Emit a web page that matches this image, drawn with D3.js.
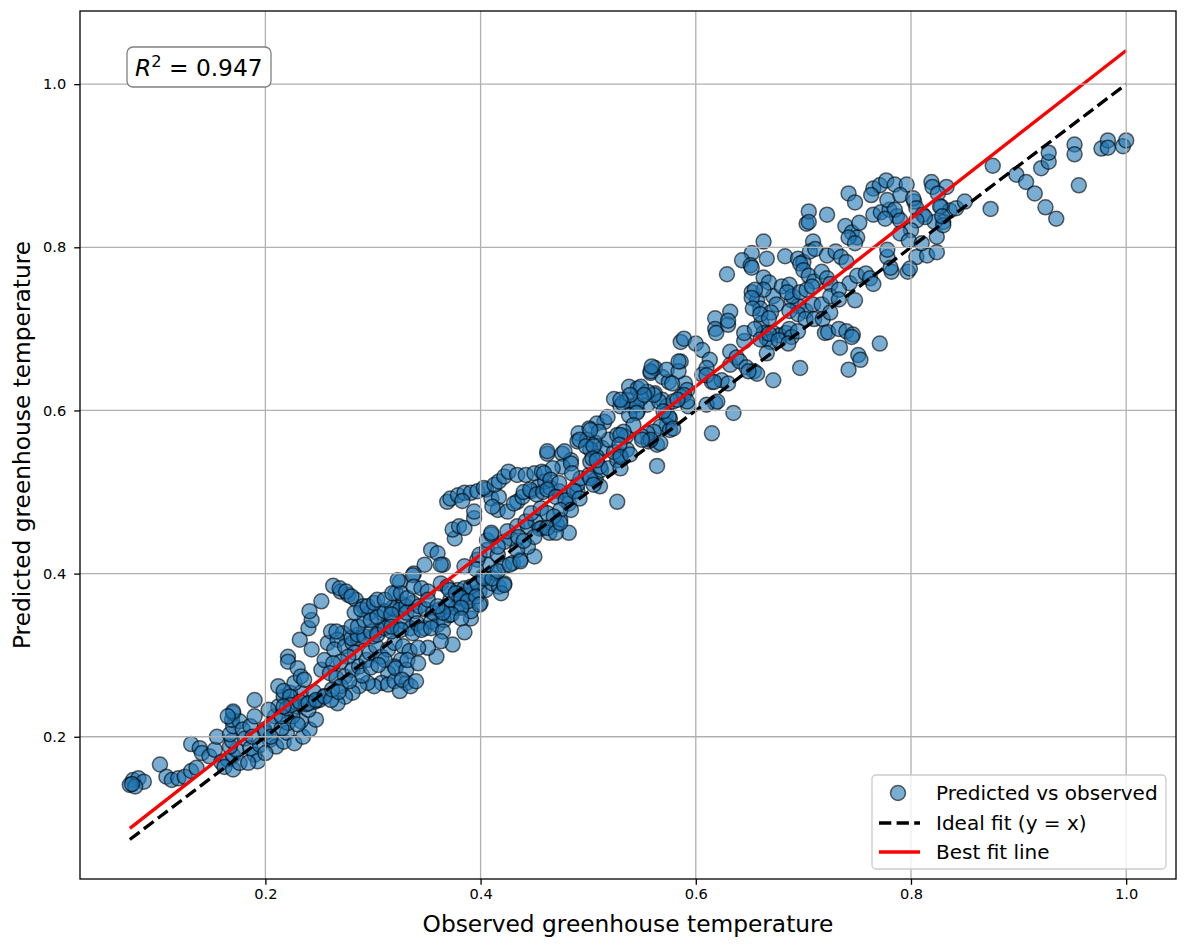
<!DOCTYPE html>
<html><head><meta charset="utf-8">
<script src="https://cdn.jsdelivr.net/npm/d3@7"></script>
<style>body{margin:0;background:#fff} svg{display:block} text{font-family:"DejaVu Sans",sans-serif;fill:#000}</style>
</head><body>
<svg id="chart" width="1187" height="947"></svg>
<script>
// ---- data (observed, predicted) ----
const segA = [[0.077,0.147],[0.082,0.149],[0.074,0.141],[0.087,0.145],[0.079,0.139],[0.076,0.142],[0.102,0.166],[0.108,0.151],[0.113,0.147],[0.119,0.149],[0.125,0.151],[0.131,0.158],[0.136,0.162],[0.131,0.191],[0.139,0.186],[0.141,0.180],[0.148,0.176],[0.153,0.184],[0.155,0.200],[0.159,0.169],[0.165,0.172],[0.170,0.177],[0.162,0.163],[0.170,0.160],[0.176,0.168],[0.173,0.184],[0.167,0.188],[0.169,0.195],[0.167,0.203],[0.170,0.213],[0.169,0.221],[0.170,0.229],[0.176,0.219],[0.179,0.209],[0.181,0.198],[0.186,0.213],[0.186,0.186],[0.190,0.178],[0.193,0.170],[0.184,0.168],[0.190,0.225],[0.190,0.245],[0.199,0.209],[0.204,0.196],[0.210,0.188],[0.217,0.194],[0.220,0.205],[0.227,0.192],[0.235,0.200],[0.241,0.209],[0.247,0.221],[0.233,0.219],[0.221,0.217],[0.209,0.225],[0.212,0.237],[0.217,0.249],[0.212,0.262],[0.223,0.254],[0.229,0.237],[0.240,0.233],[0.246,0.243],[0.233,0.254],[0.227,0.266],[0.195,0.190],[0.200,0.205],[0.205,0.215],[0.215,0.210],[0.225,0.225],[0.230,0.215],[0.238,0.240],[0.250,0.245],[0.245,0.255],[0.255,0.250],[0.200,0.180],[0.188,0.200],[0.205,0.200],[0.215,0.225],[0.220,0.235],[0.203,0.233],[0.170,0.231],[0.165,0.225],[0.217,0.256],[0.223,0.249],[0.224,0.239],[0.217,0.237],[0.232,0.243],[0.240,0.241],[0.247,0.245],[0.255,0.249],[0.221,0.298],[0.221,0.292],[0.230,0.284],[0.233,0.274],[0.236,0.270],[0.232,0.319],[0.243,0.307],[0.240,0.333],[0.243,0.343],[0.241,0.354],[0.252,0.366],[0.252,0.282],[0.255,0.294],[0.258,0.315]];
const segB = [[0.263,0.385],[0.270,0.378],[0.277,0.374],[0.284,0.368],[0.291,0.360],[0.297,0.352],[0.269,0.382],[0.275,0.378],[0.280,0.372],[0.261,0.329],[0.272,0.327],[0.267,0.319],[0.264,0.307],[0.274,0.311],[0.281,0.315],[0.286,0.321],[0.283,0.303],[0.277,0.298],[0.270,0.292],[0.263,0.290],[0.260,0.278],[0.266,0.272],[0.274,0.274],[0.281,0.282],[0.287,0.286],[0.294,0.294],[0.297,0.303],[0.303,0.311],[0.300,0.323],[0.306,0.331],[0.312,0.335],[0.315,0.343],[0.308,0.352],[0.320,0.356],[0.328,0.362],[0.321,0.376],[0.325,0.390],[0.338,0.400],[0.308,0.298],[0.314,0.307],[0.320,0.315],[0.328,0.311],[0.334,0.305],[0.326,0.294],[0.320,0.286],[0.314,0.278],[0.308,0.266],[0.301,0.262],[0.295,0.266],[0.287,0.262],[0.281,0.254],[0.274,0.249],[0.267,0.241],[0.261,0.245],[0.266,0.329],[0.280,0.321],[0.286,0.325],[0.292,0.323],[0.298,0.329],[0.304,0.325],[0.311,0.333],[0.317,0.329],[0.323,0.333],[0.329,0.341],[0.335,0.333],[0.280,0.335],[0.286,0.335],[0.292,0.343],[0.298,0.343],[0.304,0.347],[0.311,0.354],[0.318,0.358],[0.325,0.356],[0.331,0.360],[0.337,0.364],[0.283,0.352],[0.289,0.356],[0.295,0.360],[0.301,0.364],[0.304,0.368],[0.311,0.368],[0.318,0.376],[0.326,0.376],[0.332,0.370],[0.323,0.392],[0.317,0.350],[0.317,0.335],[0.326,0.331],[0.337,0.327],[0.331,0.352],[0.339,0.354],[0.314,0.264],[0.320,0.268],[0.331,0.266],[0.325,0.256],[0.311,0.294],[0.321,0.284],[0.331,0.282],[0.332,0.294],[0.327,0.270],[0.335,0.262],[0.340,0.268],[0.290,0.275],[0.298,0.285],[0.305,0.288],[0.270,0.262],[0.278,0.268],[0.262,0.258],[0.268,0.255]];
const segC = [[0.341,0.339],[0.348,0.333],[0.354,0.341],[0.360,0.337],[0.366,0.343],[0.371,0.349],[0.377,0.358],[0.383,0.360],[0.391,0.345],[0.391,0.354],[0.400,0.364],[0.343,0.360],[0.349,0.356],[0.356,0.352],[0.362,0.356],[0.368,0.360],[0.372,0.368],[0.380,0.372],[0.386,0.374],[0.393,0.376],[0.399,0.378],[0.405,0.380],[0.411,0.388],[0.417,0.384],[0.422,0.388],[0.419,0.376],[0.363,0.388],[0.369,0.384],[0.379,0.380],[0.385,0.382],[0.391,0.384],[0.397,0.388],[0.402,0.396],[0.413,0.401],[0.406,0.411],[0.397,0.417],[0.399,0.423],[0.406,0.429],[0.416,0.423],[0.422,0.409],[0.430,0.413],[0.437,0.417],[0.450,0.421],[0.444,0.433],[0.434,0.429],[0.428,0.443],[0.422,0.439],[0.416,0.433],[0.406,0.441],[0.410,0.448],[0.376,0.443],[0.374,0.454],[0.380,0.458],[0.385,0.456],[0.394,0.468],[0.394,0.476],[0.369,0.488],[0.372,0.492],[0.379,0.496],[0.385,0.499],[0.391,0.499],[0.397,0.501],[0.405,0.503],[0.383,0.489],[0.410,0.492],[0.417,0.494],[0.416,0.478],[0.425,0.476],[0.434,0.488],[0.354,0.429],[0.360,0.425],[0.365,0.411],[0.348,0.411],[0.337,0.398],[0.338,0.384],[0.345,0.382],[0.351,0.378],[0.351,0.368],[0.363,0.411],[0.385,0.409],[0.396,0.405],[0.403,0.394],[0.411,0.394],[0.416,0.403],[0.422,0.386],[0.427,0.411],[0.437,0.415],[0.371,0.380],[0.377,0.376],[0.382,0.370],[0.388,0.366],[0.396,0.372],[0.399,0.362],[0.382,0.358],[0.373,0.350],[0.365,0.352],[0.360,0.360],[0.345,0.331],[0.354,0.333],[0.365,0.329],[0.382,0.345],[0.385,0.328],[0.374,0.313],[0.363,0.317],[0.359,0.298],[0.351,0.309],[0.342,0.309],[0.342,0.290],[0.410,0.450],[0.425,0.452],[0.434,0.458],[0.444,0.458],[0.451,0.464],[0.457,0.456],[0.442,0.464],[0.447,0.474],[0.456,0.480],[0.411,0.482],[0.431,0.486],[0.439,0.494],[0.447,0.501],[0.454,0.507],[0.403,0.505],[0.413,0.509],[0.417,0.513],[0.422,0.519],[0.426,0.525],[0.434,0.521],[0.442,0.521],[0.450,0.523],[0.457,0.525],[0.440,0.500],[0.446,0.503],[0.452,0.497],[0.458,0.500],[0.455,0.455],[0.450,0.445],[0.435,0.445],[0.440,0.440]];
const segD = [[0.462,0.547],[0.476,0.547],[0.484,0.539],[0.476,0.531],[0.467,0.529],[0.460,0.513],[0.465,0.505],[0.473,0.501],[0.481,0.496],[0.482,0.486],[0.490,0.501],[0.490,0.509],[0.493,0.517],[0.501,0.521],[0.507,0.515],[0.511,0.507],[0.464,0.450],[0.471,0.460],[0.482,0.450],[0.474,0.466],[0.462,0.474],[0.462,0.550],[0.478,0.550],[0.484,0.535],[0.485,0.523],[0.502,0.517],[0.512,0.527],[0.505,0.509],[0.459,0.523],[0.465,0.515],[0.473,0.511],[0.462,0.503],[0.470,0.494],[0.479,0.490],[0.487,0.501],[0.492,0.492],[0.484,0.478],[0.474,0.478],[0.468,0.470],[0.462,0.456],[0.470,0.450],[0.474,0.462],[0.515,0.586],[0.508,0.584],[0.501,0.578],[0.491,0.572],[0.490,0.562],[0.499,0.564],[0.507,0.560],[0.513,0.554],[0.502,0.552],[0.508,0.543],[0.502,0.537],[0.511,0.531],[0.519,0.529],[0.527,0.539],[0.530,0.529],[0.530,0.545],[0.524,0.549],[0.519,0.564],[0.527,0.570],[0.535,0.568],[0.536,0.552],[0.527,0.488],[0.510,0.574],[0.502,0.576],[0.492,0.564],[0.498,0.556],[0.505,0.556],[0.504,0.541],[0.508,0.539],[0.538,0.629],[0.546,0.627],[0.524,0.614],[0.536,0.613],[0.530,0.605],[0.541,0.605],[0.546,0.599],[0.555,0.607],[0.562,0.621],[0.569,0.613],[0.573,0.605],[0.572,0.595],[0.576,0.590],[0.573,0.582],[0.567,0.580],[0.561,0.574],[0.555,0.572],[0.550,0.568],[0.556,0.562],[0.564,0.558],[0.576,0.576],[0.564,0.532],[0.558,0.646],[0.569,0.641],[0.575,0.635],[0.590,0.633],[0.592,0.625],[0.586,0.617],[0.579,0.611],[0.566,0.611],[0.561,0.619],[0.555,0.623],[0.549,0.615],[0.545,0.607],[0.549,0.629],[0.532,0.609],[0.538,0.594],[0.545,0.597],[0.593,0.605],[0.575,0.592],[0.579,0.578],[0.567,0.560],[0.558,0.564],[0.550,0.564],[0.542,0.582],[0.533,0.574],[0.530,0.570],[0.529,0.558],[0.530,0.543],[0.539,0.546],[0.518,0.592],[0.562,0.652],[0.558,0.648],[0.573,0.650],[0.586,0.660],[0.584,0.648],[0.578,0.633],[0.589,0.619],[0.592,0.611],[0.583,0.613],[0.570,0.599],[0.552,0.619],[0.539,0.619],[0.530,0.613],[0.586,0.684],[0.589,0.688],[0.584,0.660],[0.559,0.654]];
const segE = [[0.606,0.644],[0.615,0.635],[0.624,0.637],[0.630,0.633],[0.618,0.609],[0.610,0.607],[0.635,0.597],[0.615,0.572],[0.620,0.611],[0.600,0.682],[0.606,0.674],[0.613,0.662],[0.610,0.652],[0.610,0.643],[0.617,0.635],[0.632,0.672],[0.632,0.656],[0.638,0.665],[0.641,0.660],[0.645,0.685],[0.647,0.653],[0.654,0.648],[0.657,0.645],[0.649,0.648],[0.661,0.707],[0.663,0.695],[0.672,0.695],[0.678,0.692],[0.684,0.695],[0.687,0.700],[0.689,0.690],[0.666,0.688],[0.669,0.684],[0.666,0.670],[0.672,0.637],[0.697,0.652],[0.632,0.721],[0.618,0.713],[0.618,0.700],[0.619,0.695],[0.630,0.705],[0.630,0.710],[0.703,0.829],[0.709,0.807],[0.663,0.807],[0.652,0.793],[0.643,0.784],[0.651,0.778],[0.666,0.786],[0.683,0.789],[0.695,0.786],[0.700,0.782],[0.629,0.767],[0.663,0.763],[0.668,0.757],[0.652,0.745],[0.657,0.735],[0.660,0.725],[0.672,0.740],[0.675,0.730],[0.670,0.720],[0.689,0.735],[0.695,0.728],[0.702,0.722],[0.709,0.730],[0.705,0.844],[0.705,0.831],[0.706,0.795],[0.711,0.798],[0.697,0.780],[0.700,0.772],[0.705,0.765],[0.710,0.758],[0.680,0.752],[0.687,0.754],[0.690,0.740],[0.685,0.745],[0.697,0.745],[0.703,0.748],[0.708,0.752],[0.717,0.770],[0.663,0.748],[0.655,0.748],[0.652,0.738],[0.653,0.725],[0.660,0.718],[0.668,0.713],[0.687,0.722],[0.695,0.718],[0.702,0.712],[0.710,0.712],[0.718,0.712],[0.717,0.730],[0.695,0.697],[0.720,0.695],[0.645,0.695],[0.655,0.700],[0.660,0.687],[0.668,0.694],[0.677,0.686],[0.686,0.682],[0.652,0.775]];
const segF = [[0.722,0.840],[0.739,0.826],[0.745,0.818],[0.750,0.812],[0.752,0.830],[0.742,0.812],[0.748,0.805],[0.765,0.840],[0.772,0.843],[0.780,0.846],[0.787,0.838],[0.722,0.790],[0.730,0.795],[0.735,0.788],[0.740,0.782],[0.722,0.762],[0.725,0.755],[0.743,0.756],[0.750,0.765],[0.758,0.768],[0.762,0.762],[0.765,0.755],[0.778,0.788],[0.782,0.770],[0.797,0.770],[0.805,0.788],[0.815,0.790],[0.824,0.794],[0.725,0.720],[0.725,0.740],[0.733,0.748],[0.733,0.736],[0.748,0.735],[0.723,0.696],[0.733,0.700],[0.740,0.697],[0.746,0.693],[0.771,0.682],[0.734,0.677],[0.751,0.668],[0.745,0.690],[0.742,0.650],[0.753,0.662],[0.742,0.866],[0.748,0.855],[0.765,0.872],[0.771,0.876],[0.777,0.882],[0.785,0.877],[0.796,0.877],[0.790,0.864],[0.763,0.864],[0.803,0.856],[0.819,0.880],[0.820,0.874],[0.833,0.874],[0.828,0.850],[0.836,0.845],[0.842,0.848],[0.778,0.858],[0.785,0.846],[0.776,0.835],[0.790,0.833],[0.802,0.860],[0.805,0.848],[0.811,0.840],[0.825,0.866],[0.827,0.850],[0.830,0.831],[0.822,0.831],[0.813,0.837],[0.805,0.833],[0.800,0.821],[0.790,0.817],[0.824,0.813],[0.830,0.827],[0.850,0.856],[0.829,0.838],[0.799,0.774],[0.781,0.775],[0.778,0.797],[0.798,0.808],[0.810,0.805]];
const segG = [[0.876,0.900],[0.898,0.889],[0.907,0.880],[0.915,0.866],[0.925,0.849],[0.935,0.835],[0.921,0.897],[0.928,0.905],[0.928,0.916],[0.952,0.926],[0.952,0.914],[0.956,0.876],[0.977,0.921],[0.983,0.931],[0.983,0.922],[0.997,0.924],[1.000,0.931],[0.874,0.847]];

const points = [].concat(segA, segB, segC, segD, segE, segF, segG);
const observed = points.map(p => p[0]);
const predicted = points.map(p => p[1]);

// best fit line endpoints (at min and max observed)
const fitY = [0.0877, 1.0413];
const xTicks = [0.2, 0.4, 0.6, 0.8, 1.0];
const yTicks = [0.2, 0.4, 0.6, 0.8, 1.0];
const r2Text = "0.947";
const xLabel = "Observed greenhouse temperature";
const yLabel = "Predicted greenhouse temperature";
const legendLabels = ["Predicted vs observed", "Ideal fit (y = x)", "Best fit line"];

// ---- layout ----
const L = 80, R = 1176, T = 11, B = 879;
const xExt = d3.extent(observed);
const fitX = xExt;
const idealX = xExt, idealY = xExt;
const ylo = Math.min(d3.min(predicted), idealY[0], fitY[0]);
const yhi = Math.max(d3.max(predicted), idealY[1], fitY[1]);
const xp = 0.05 * (xExt[1] - xExt[0]), yp = 0.05 * (yhi - ylo);
const x = d3.scaleLinear().domain([xExt[0] - xp, xExt[1] + xp]).range([L, R]);
const y = d3.scaleLinear().domain([ylo - yp, yhi + yp]).range([B, T]);

const svg = d3.select("#chart");
svg.append("rect").attr("width", 1187).attr("height", 947).attr("fill", "#fff");

const clip = svg.append("defs").append("clipPath").attr("id", "clip");
clip.append("rect").attr("x", L).attr("y", T).attr("width", R - L).attr("height", B - T);

const plot = svg.append("g").attr("clip-path", "url(#clip)");
const R_PT = 7.5;
const LW = 3.33;
const DASH = "12.3,5.3";

// scatter
plot.append("g").selectAll("circle").data(points).join("circle")
  .attr("cx", d => x(d[0])).attr("cy", d => y(d[1])).attr("r", R_PT)
  .attr("fill", "#1f77b4").attr("fill-opacity", 0.6)
  .attr("stroke", "#000").attr("stroke-opacity", 0.6).attr("stroke-width", 1.5);

// grid
const grid = svg.append("g");
xTicks.forEach(t => grid.append("line").attr("x1", x(t)).attr("x2", x(t)).attr("y1", T).attr("y2", B)
  .attr("stroke", "#b0b0b0").attr("stroke-width", 1.3));
yTicks.forEach(t => grid.append("line").attr("y1", y(t)).attr("y2", y(t)).attr("x1", L).attr("x2", R)
  .attr("stroke", "#b0b0b0").attr("stroke-width", 1.3));

// lines
const line = d3.line().x(d => x(d[0])).y(d => y(d[1]));
plot.append("path").attr("d", line([[idealX[0], idealY[0]], [idealX[1], idealY[1]]]))
  .attr("fill", "none").attr("stroke", "#000").attr("stroke-width", LW).attr("stroke-dasharray", DASH);
plot.append("path").attr("d", line([[fitX[0], fitY[0]], [fitX[1], fitY[1]]]))
  .attr("fill", "none").attr("stroke", "#ff0000").attr("stroke-width", LW);

// axes
const xAxis = d3.axisBottom(x).tickValues(xTicks).tickFormat(d3.format(".1f")).tickSize(5.8).tickPadding(3.5);
const yAxis = d3.axisLeft(y).tickValues(yTicks).tickFormat(d3.format(".1f")).tickSize(5.8).tickPadding(8);
const gx = svg.append("g").attr("transform", `translate(0,${B})`).call(xAxis);
const gy = svg.append("g").attr("transform", `translate(${L},0)`).call(yAxis);
[gx, gy].forEach(g => {
  g.select(".domain").remove();
  g.selectAll(".tick line").attr("stroke", "#000").attr("stroke-width", 1.3);
  g.selectAll(".tick text").attr("font-family", "DejaVu Sans").attr("font-size", 14.6).attr("fill", "#000");
});
svg.append("rect").attr("x", L).attr("y", T).attr("width", R - L).attr("height", B - T)
  .attr("fill", "none").attr("stroke", "#000").attr("stroke-width", 1.3);

// labels
svg.append("text").attr("x", (L + R) / 2).attr("y", 932).attr("text-anchor", "middle")
  .attr("font-size", 23.3).text(xLabel);
svg.append("text").attr("transform", `translate(30,${(T + B) / 2}) rotate(-90)`).attr("text-anchor", "middle")
  .attr("font-size", 23.3).text(yLabel);

// R^2 box
svg.append("rect").attr("x", 127).attr("y", 47).attr("width", 144).attr("height", 40).attr("rx", 6)
  .attr("fill", "#fff").attr("stroke", "#808080").attr("stroke-width", 1.3);
const rt = svg.append("text").attr("x", 135).attr("y", 76).attr("font-size", 23.3);
rt.append("tspan").attr("font-style", "italic").text("R");
rt.append("tspan").attr("font-size", 16.3).attr("dy", -9.5).text("2");
rt.append("tspan").attr("dy", 9.5).text(" = " + r2Text);

// legend
const lg = svg.append("g");
lg.append("rect").attr("x", 872).attr("y", 775).attr("width", 294).attr("height", 94).attr("rx", 4)
  .attr("fill", "#fff").attr("fill-opacity", 0.8).attr("stroke", "#cccccc").attr("stroke-width", 1.3);
const rows = [793, 823, 852];
lg.append("circle").attr("cx", 898).attr("cy", rows[0]).attr("r", R_PT)
  .attr("fill", "#1f77b4").attr("fill-opacity", 0.6).attr("stroke", "#000").attr("stroke-opacity", 0.6).attr("stroke-width", 1.5);
lg.append("line").attr("x1", 879).attr("x2", 920).attr("y1", rows[1]).attr("y2", rows[1])
  .attr("stroke", "#000").attr("stroke-width", LW).attr("stroke-dasharray", DASH);
lg.append("line").attr("x1", 879).attr("x2", 920).attr("y1", rows[2]).attr("y2", rows[2])
  .attr("stroke", "#ff0000").attr("stroke-width", LW);
legendLabels.forEach((t, i) => lg.append("text").attr("x", 936).attr("y", rows[i] + 7)
  .attr("font-size", 20).text(t));
</script>
</body></html>
